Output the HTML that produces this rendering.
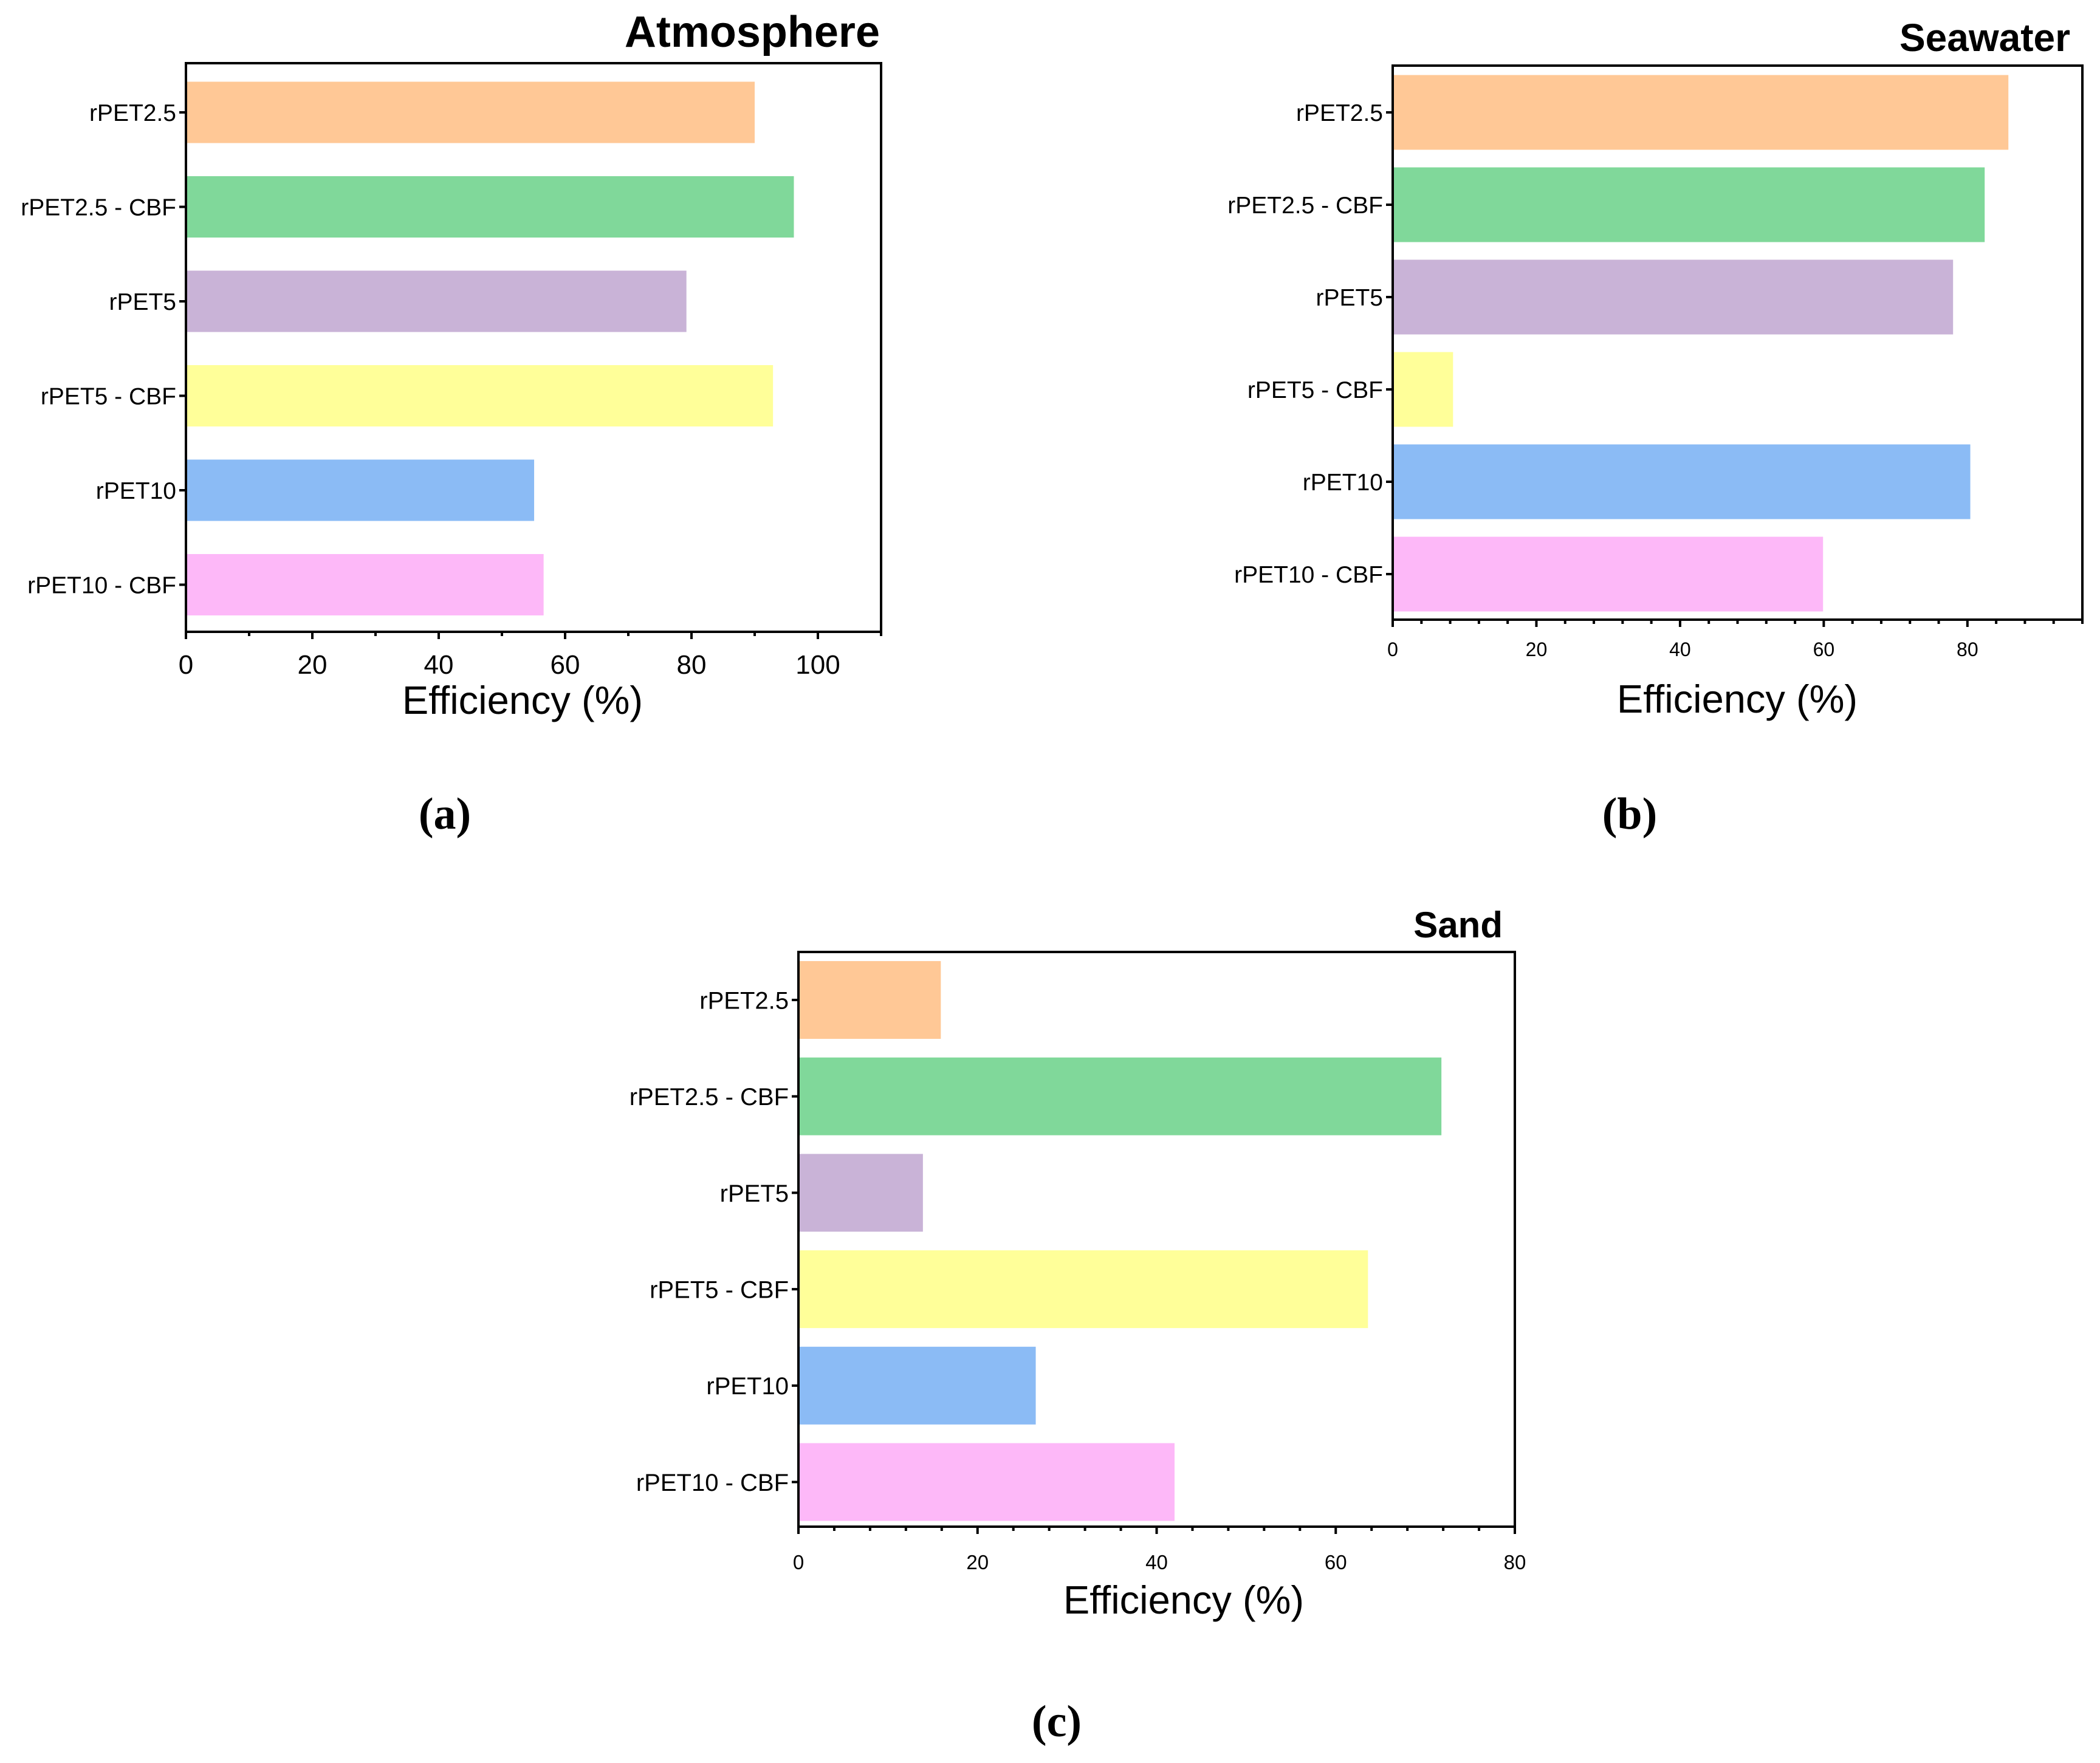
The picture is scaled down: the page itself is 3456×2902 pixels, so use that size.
<!DOCTYPE html>
<html><head><meta charset="utf-8"><style>
html,body{margin:0;padding:0;background:#fff;}
svg{display:block;}
text{font-family:"Liberation Sans",sans-serif;fill:#000;}
</style></head>
<body>
<svg id="fig" width="3456" height="2902" viewBox="0 0 3456 2902" xmlns="http://www.w3.org/2000/svg">
<text x="732" y="1364" style="font-family:'Liberation Serif',serif;font-size:74px;font-weight:bold" text-anchor="middle">(a)</text>
<text x="2682" y="1364" style="font-family:'Liberation Serif',serif;font-size:74px;font-weight:bold" text-anchor="middle">(b)</text>
<text x="1739" y="2858" style="font-family:'Liberation Serif',serif;font-size:74px;font-weight:bold" text-anchor="middle">(c)</text>
</svg>
<script>
const categories = ["rPET2.5","rPET2.5 - CBF","rPET5","rPET5 - CBF","rPET10","rPET10 - CBF"];
const barColors = ["#FFC896","#80D89A","#C9B3D7","#FFFF99","#8BBBF5","#FDB8F8"];
const atmosphereValues = [90.0, 96.2, 79.2, 92.9, 55.1, 56.6];
const seawaterValues = [85.7, 82.4, 78.0, 8.4, 80.4, 59.9];
const sandValues = [15.9, 71.8, 13.9, 63.6, 26.5, 42.0];
const atmosphereTicks = [0,20,40,60,80,100];
const seawaterTicks = [0,20,40,60,80];
const sandTicks = [0,20,40,60,80];

const NS = "http://www.w3.org/2000/svg";
const svg = document.getElementById("fig");
function mk(tag, attrs, parent){
  const e = document.createElementNS(NS, tag);
  for (const k in attrs) e.setAttribute(k, attrs[k]);
  (parent||svg).appendChild(e);
  return e;
}

function drawPanel(p){
  const g = mk("g", {});
  
  
  const xs = v => p.left + v / p.xmax * (p.right - p.left);
  const yc = i => p.firstCenter + i * p.step;
  categories.forEach((c, i) => {
    const r = mk("rect", {x: xs(0), y: yc(i) - p.barH/2, width: xs(p.values[i]) - xs(0), height: p.barH, fill: barColors[i]}, g);
    
    
    const t = mk("line", {x1: p.left - 11, x2: p.left, y1: yc(i), y2: yc(i), stroke: "#000", "stroke-width": 4}, g);
    
    
    const l = mk("text", {x: p.left - 16, y: yc(i) + p.catFont*0.36, "text-anchor": "end", "font-size": p.catFont}, g);
    l.textContent = c;
    
    
  });
  for (let v = 0; v <= p.xmax + 1e-6; v += p.minor) {
    const major = p.ticks.indexOf(v) >= 0;
    const t = mk("line", {x1: xs(v), x2: xs(v), y1: p.bottom, y2: p.bottom + (major ? 12 : 7), stroke: "#000", "stroke-width": 4}, g);
    
    
  }
  p.ticks.forEach(v => {
    const t = mk("text", {x: xs(v), y: p.tickY, "text-anchor": "middle", "font-size": p.tickFont}, g);
    t.textContent = v;
    
    
  });
  const box = mk("rect", {x: p.left, y: p.top, width: p.right - p.left, height: p.bottom - p.top, fill: "none", stroke: "#000", "stroke-width": 4}, g);
  
  
  const ti = mk("text", {x: p.titleX, y: p.titleY, "text-anchor": "end", "font-size": p.titleFont, "font-weight": "bold"}, g);
  ti.textContent = p.title;
  
  
  const ax = mk("text", {x: p.axX, y: p.axY, "text-anchor": "middle", "font-size": p.axFont}, g);
  ax.textContent = "Efficiency (%)";
  
  
}

drawPanel({id:"atmosphere", title:"Atmosphere", values: atmosphereValues, ticks: atmosphereTicks,
  left:306, right:1450, top:104, bottom:1040, xmax:110, minor:10,
  firstCenter:185, step:155.5, barH:101, catFont:39, tickFont:44, tickY:1109,
  titleX:1448, titleY:77, titleFont:72, axX:860, axY:1175, axFont:65});
drawPanel({id:"seawater", title:"Seawater", values: seawaterValues, ticks: seawaterTicks,
  left:2292, right:3427, top:108, bottom:1020, xmax:96, minor:4,
  firstCenter:185, step:152, barH:123, catFont:39, tickFont:32, tickY:1080,
  titleX:3407, titleY:84, titleFont:64, axX:2859, axY:1173, axFont:65});
drawPanel({id:"sand", title:"Sand", values: sandValues, ticks: sandTicks,
  left:1314, right:2493, top:1567, bottom:2513, xmax:80, minor:4,
  firstCenter:1646, step:158.7, barH:128, catFont:40, tickFont:33, tickY:2583,
  titleX:2473, titleY:1543, titleFont:60, axX:1948, axY:2656, axFont:65});
</script>
</body></html>
